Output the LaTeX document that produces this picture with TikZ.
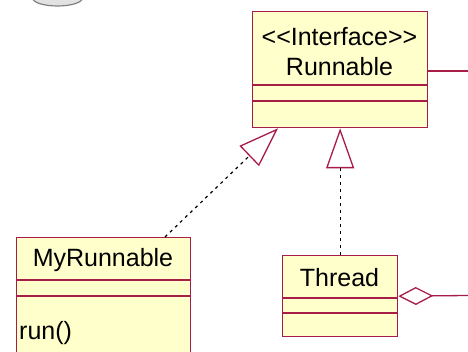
\documentclass[tikz,border=0pt]{standalone}
\usepackage{fontspec}
\setsansfont{Liberation Sans}
\usetikzlibrary{arrows.meta}
\usetikzlibrary{calc}
\definecolor{umlred}{RGB}{168, 28, 72}
\definecolor{umlfill}{RGB}{255, 255, 204}
\definecolor{blobgray}{RGB}{226, 226, 226}

\begin{document}
\begin{tikzpicture}[x=1pt, y=-1pt,
    classbox/.style={draw=umlred, fill=umlfill, line width=1.3pt, inner sep=0pt, anchor=north west},
    classname/.style={font=\sffamily\fontsize{25}{29}\selectfont, inner sep=0pt},
    divider/.style={umlred, line width=1.3pt},
    realize/.style={black, dash pattern=on 3pt off 4pt, line width=1.2pt,
        -{Triangle[open, length=40pt, width=28pt, color=umlred, line width=1.3pt]}},
    ]
    \useasboundingbox (0, 0) rectangle (468, 352);

    % partly hidden blob in the corner
    \draw[gray, fill=blobgray, line width=1.2pt] (57.5, -2) ellipse[x radius=25pt, y radius=8pt];

    % interface
    \node[classbox, minimum width=175pt, minimum height=116pt] (runnable) at (252, 11) {};
    \node[classname] (runnablestereo) at (339.5, 37) {<\kern0pt<Interface>\kern0pt>};
    \node[classname] (runnablename) at (339.5, 67) {Runnable};
    \draw[divider] (252, 85) -- (427, 85) (252, 101) -- (427, 101);

    % classes
    \node[classbox, minimum width=174pt, minimum height=130pt] (myrunnable) at (16, 237) {};
    \node[classname] (myrunnablename) at (103, 260) {MyRunnable};
    \draw[divider] (16, 280) -- (190, 280) (16, 296) -- (190, 296);
    \node[classname, anchor=west] (runop) at (19, 333) {run()};

    \node[classbox, minimum width=115pt, minimum height=81pt] (thread) at (282, 255) {};
    \node[classname] (threadname) at (339.5, 278) {Thread};
    \draw[divider] (282, 298) -- (397, 298) (282, 313) -- (397, 313);

    % relations
    \coordinate (myrunnabletop) at ($(myrunnable.north west) + (149, 0)$);
    \coordinate (runnablefoot) at ($(runnable.south west) + (26, 0)$);
    \draw[realize] (myrunnabletop) -- (runnablefoot);
    \draw[realize] (thread.north) -- (thread.north |- runnable.south);

    \coordinate (runnablelink) at (468, 71);
    \draw[divider] (runnable.east |- runnablelink) -- (runnablelink);

    \coordinate (threadlink) at (468, 295.5);
    \draw[divider, {Diamond[open, length=35pt, width=18pt]}-] (thread.east) -- (threadlink);
\end{tikzpicture}
\end{document}
